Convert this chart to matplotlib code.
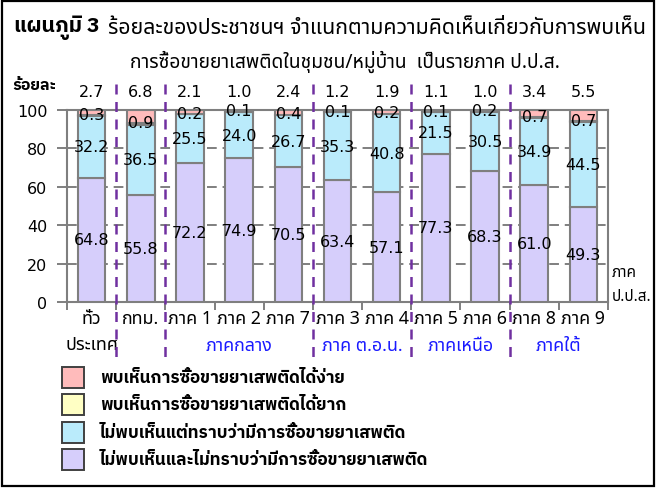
import matplotlib
matplotlib.use("Agg")
import matplotlib.pyplot as plt
from matplotlib.patches import Rectangle
from matplotlib import font_manager as fm
import matplotlib.transforms as mtransforms
import numpy as np

# ---------------- data ----------------
categories = ["ทั่ว", "กทม.", "ภาค 1", "ภาค 2", "ภาค 7", "ภาค 3", "ภาค 4",
              "ภาค 5", "ภาค 6", "ภาค 8", "ภาค 9"]
not_seen_not_known = [64.8, 55.8, 72.2, 74.9, 70.5, 63.4, 57.1, 77.3, 68.3, 61.0, 49.3]
not_seen_but_known = [32.2, 36.5, 25.5, 24.0, 26.7, 35.3, 40.8, 21.5, 30.5, 34.9, 44.5]
seen_hard = [0.3, 0.9, 0.2, 0.1, 0.4, 0.1, 0.2, 0.1, 0.2, 0.7, 0.7]
seen_easy = [2.7, 6.8, 2.1, 1.0, 2.4, 1.2, 1.9, 1.1, 1.0, 3.4, 5.5]
series_names = ["พบเห็นการซื้อขายยาเสพติดได้ง่าย",
                "พบเห็นการซื้อขายยาเสพติดได้ยาก",
                "ไม่พบเห็นแต่ทราบว่ามีการซื้อขายยาเสพติด",
                "ไม่พบเห็นและไม่ทราบว่ามีการซื้อขายยาเสพติด"]
group_names = ["ภาคกลาง", "ภาค ต.อ.น.", "ภาคเหนือ", "ภาคใต้"]
group_members = [(2, 4), (5, 6), (7, 8), (9, 10)]
group_dividers = [0.5, 1.5, 4.5, 6.5, 8.5]
yticks = [0, 20, 40, 60, 80, 100]
title_bold = "แผนภูมิ 3"
title_l1 = "ร้อยละของประชาชนฯ จำแนกตามความคิดเห็นเกี่ยวกับการพบเห็น"
title_l2 = "การซื้อขายยาเสพติดในชุมชน/หมู่บ้าน  เป็นรายภาค ป.ป.ส."

# ---------------- fonts ----------------
avail = {}
for f in fm.fontManager.ttflist:
    w = f.weight if isinstance(f.weight, int) else (700 if "bold" in str(f.weight) else 400)
    avail.setdefault(f.name, set()).add(w)
THAI_REG = "Noto Sans Thai"
bold_cands = ["Noto Sans Thai", "IBM Plex Sans Thai", "Noto Sans Thai Looped", "Sarabun",
              "Bai Jamjuree", "Kanit"]
THAI_BOLD = next((c for c in bold_cands if c in avail and max(avail[c]) >= 600), THAI_REG)
THAI = [THAI_REG, "DejaVu Sans"]
THAIB = [THAI_BOLD, "DejaVu Sans"]
plt.rcParams["font.family"] = ["DejaVu Sans", "Noto Sans Thai"]

c_easy = "#FFBBBB"
c_hard = "#FFFFC4"
c_know = "#BAEBFB"
c_none = "#D6CEFB"
edge = "#7F7F7F"
purple = "#7030A0"
blue = "#1A1AFF"

W, H = 656, 489
fig = plt.figure(figsize=(W / 100, H / 100), dpi=100)
renderer = fig.canvas.get_renderer()

def px(x, y):
    return x / W, 1 - y / H

def fit_size(s, width_px, family, weight="normal", base=12.0):
    t = fig.text(0, 0, s, fontsize=base, family=family, fontweight=weight)
    w = t.get_window_extent(renderer).width
    t.remove()
    return base * width_px / w

# outer border
fig.patches.append(Rectangle((0.003, 0.004), 0.994, 0.992, transform=fig.transFigure,
                             fill=False, edgecolor="black", linewidth=1.6))

ax_l, ax_r, ax_t, ax_b = 67, 608, 111, 303
ax = fig.add_axes([ax_l / W, 1 - ax_b / H, (ax_r - ax_l) / W, (ax_b - ax_t) / H])

x = np.arange(len(categories))
bw = 0.56
b0 = np.zeros(len(x))
stack = [(not_seen_not_known, c_none), (not_seen_but_known, c_know),
         (seen_hard, c_hard), (seen_easy, c_easy)]
for vals, col in stack:
    ax.bar(x, vals, bw, bottom=b0, color=col, edgecolor=edge, linewidth=1.5, zorder=3)
    b0 = b0 + np.array(vals)

ax.set_xlim(-0.5, len(x) - 0.5)
ax.set_ylim(0, 100)
ax.set_yticks(yticks)
ax.set_yticklabels([str(t) for t in yticks], fontsize=11.5)
ax.yaxis.grid(True, linestyle=(0, (5, 3)), color=edge, linewidth=1.4, zorder=0)
for s in ax.spines.values():
    s.set_color(edge)
    s.set_linewidth(1.5)
ax.tick_params(axis="y", length=7, width=1.4, color=edge, pad=7)
ax.set_xticks(np.arange(-0.5, len(x), 1.0))
ax.set_xticklabels([])
ax.tick_params(axis="x", length=6, width=1.4, color=edge)

# value labels
lab_fs = 11.5
bot = np.array(not_seen_not_known)
mid = bot + np.array(not_seen_but_known)
for i in x:
    ax.text(i, bot[i] / 2, f"{not_seen_not_known[i]:.1f}", ha="center", va="center",
            fontsize=lab_fs, zorder=5)
    ax.text(i, bot[i] + not_seen_but_known[i] / 2, f"{not_seen_but_known[i]:.1f}",
            ha="center", va="center", fontsize=lab_fs, zorder=5)
    ax.text(i, mid[i] + seen_hard[i] / 2 + 0.6, f"{seen_hard[i]:.1f}", ha="center",
            va="center", fontsize=lab_fs, zorder=5)
    ax.text(i, 109.5, f"{seen_easy[i]:.1f}", ha="center", va="center",
            fontsize=lab_fs, clip_on=False)

# purple dividers
trans_dx = mtransforms.blended_transform_factory(ax.transData, fig.transFigure)
for d in group_dividers:
    ax.plot([d, d], [1 - 85 / H, 1 - 362 / H], transform=trans_dx, color=purple,
            linestyle=(0, (4, 3)), linewidth=1.8, clip_on=False, zorder=6)

# category labels
cat_fs = fit_size("ภาคกลาง", 67, THAI)
for i, c in enumerate(categories):
    ax.text(i, 1 - 319 / H, c, transform=trans_dx, ha="center", va="center",
            fontsize=cat_fs, family=THAI)
ax.text(0, 1 - 345 / H, "ประเทศ", transform=trans_dx, ha="center", va="center",
        fontsize=cat_fs, family=THAI)
for name, (a, b) in zip(group_names, group_members):
    ax.text((a + b) / 2, 1 - 346 / H, name, transform=trans_dx, ha="center", va="center",
            fontsize=cat_fs, family=THAI, color=blue)

# axis titles
fig.text(*px(12, 86), "ร้อยละ", ha="left", va="center",
         fontsize=fit_size("ร้อยละ", 44, THAIB, "bold"), family=THAIB, fontweight="bold")
side_fs = cat_fs * 0.86
fig.text(*px(612, 273), "ภาค", ha="left", va="center", fontsize=side_fs, family=THAI)
fig.text(*px(612, 297), "ป.ป.ส.", ha="left", va="center", fontsize=side_fs, family=THAI)

# title
fig.text(*px(14, 28), title_bold, ha="left", va="center",
         fontsize=fit_size(title_bold, 85, THAIB, "bold"), family=THAIB, fontweight="bold")
fig.text(*px(108, 28), title_l1, ha="left", va="center",
         fontsize=fit_size(title_l1, 538, THAI), family=THAI)
fig.text(*px(345, 62), title_l2, ha="center", va="center",
         fontsize=fit_size(title_l2, 432, THAI), family=THAI)

# legend
leg_fs = fit_size(series_names[0], 243, THAIB, "bold")
leg_cols = [c_easy, c_hard, c_know, c_none]
leg_y = [378, 405.5, 433, 460.5]
for name, col, yy in zip(series_names, leg_cols, leg_y):
    fig.patches.append(Rectangle(px(62, yy + 10.5), 22 / W, 21 / H, transform=fig.transFigure,
                                 facecolor=col, edgecolor="#404040", linewidth=1.4))
    fig.text(*px(100, yy), name, ha="left", va="center", fontsize=leg_fs, family=THAIB,
             fontweight="bold")

fig.savefig("out.png", dpi=100)
